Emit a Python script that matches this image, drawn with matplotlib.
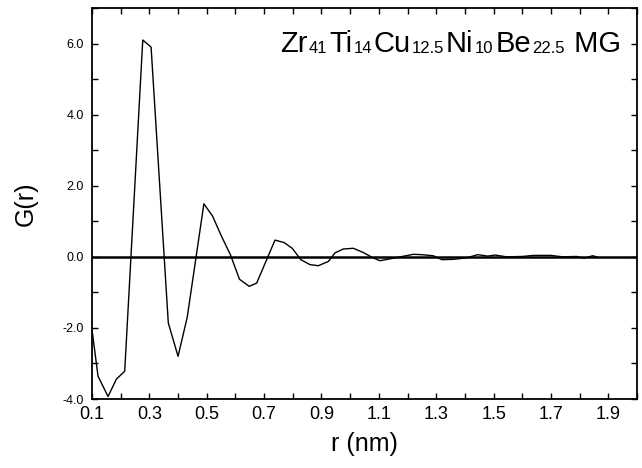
import matplotlib
matplotlib.use("Agg")
import matplotlib.pyplot as plt
from matplotlib.ticker import MultipleLocator, FormatStrFormatter

plt.rcParams["font.family"] = ["Liberation Sans", "DejaVu Sans"]
plt.rcParams["axes.unicode_minus"] = False

# reduced pair distribution function G(r) of the metallic glass
r_nm = [0.100, 0.121, 0.156, 0.185, 0.214, 0.277, 0.306, 0.366, 0.400,
        0.432, 0.490, 0.520, 0.552, 0.583, 0.614, 0.648, 0.674, 0.738,
        0.770, 0.798, 0.828, 0.860, 0.889, 0.924, 0.947, 0.976, 1.011,
        1.046, 1.080, 1.104, 1.150, 1.220, 1.250, 1.290, 1.320, 1.360,
        1.405, 1.445, 1.480, 1.505, 1.545, 1.600, 1.640, 1.700, 1.740,
        1.790, 1.815, 1.845, 1.860]
g_r = [-2.05, -3.36, -3.93, -3.44, -3.22, 6.10, 5.90, -1.86, -2.80,
       -1.70, 1.49, 1.15, 0.57, 0.05, -0.63, -0.83, -0.74, 0.47,
       0.40, 0.24, -0.08, -0.22, -0.25, -0.13, 0.11, 0.22, 0.24,
       0.12, -0.03, -0.11, -0.04, 0.07, 0.06, 0.03, -0.08, -0.07,
       -0.03, 0.06, 0.02, 0.05, 0.00, 0.01, 0.04, 0.04, 0.00,
       0.01, -0.04, 0.03, 0.00]

x_major = [0.1, 0.3, 0.5, 0.7, 0.9, 1.1, 1.3, 1.5, 1.7, 1.9]
y_major = [-4, -2, 0, 2, 4, 6]

# composition label, (text, is_subscript)
title_parts = [("Zr", False), ("41", True), ("Ti", False), ("14", True),
               ("Cu", False), ("12.5", True), ("Ni", False), ("10", True),
               ("Be", False), ("22.5", True), (" MG", False)]

W, H = 642, 468
fig = plt.figure(figsize=(W / 100, H / 100), dpi=100)
ax = fig.add_axes([92 / W, 1 - 399 / H, 545 / W, 391 / H])

ax.plot(r_nm, g_r, color="black", linewidth=1.0)
ax.axhline(0, color="black", linewidth=1.8)

ax.set_xlim(0.1, 2.0)
ax.set_ylim(-4, 7)
ax.set_xticks(x_major)
ax.set_yticks(y_major)
ax.xaxis.set_minor_locator(MultipleLocator(0.1))
ax.yaxis.set_minor_locator(MultipleLocator(1))
ax.xaxis.set_major_formatter(FormatStrFormatter("%.1f"))
ax.yaxis.set_major_formatter(FormatStrFormatter("%.1f"))
ax.tick_params(which="both", direction="in", top=True, right=True,
               length=4, width=1)
ax.tick_params(axis="x", labelsize=13, pad=5)
ax.tick_params(axis="y", labelsize=9, pad=6)
for sp in ax.spines.values():
    sp.set_linewidth(1.3)

ax.set_xlabel("r (nm)", fontsize=18)
ax.set_ylabel("G(r)", fontsize=18)
ax.xaxis.set_label_coords(0.5, -0.085)
ax.yaxis.set_label_coords(-0.10, 0.5)

# lay the composition out piece by piece so the subscripts sit low
renderer = fig.canvas.get_renderer()
x_px, base_px = 280, H - 52
for text, sub in title_parts:
    t = fig.text(x_px / W, (base_px - (1 if sub else 0)) / H, text,
                 fontsize=12 if sub else 21, va="baseline", ha="left")
    bb = t.get_window_extent(renderer=renderer)
    x_px = bb.x1 + 1.5

fig.savefig("out.png", dpi=100)
